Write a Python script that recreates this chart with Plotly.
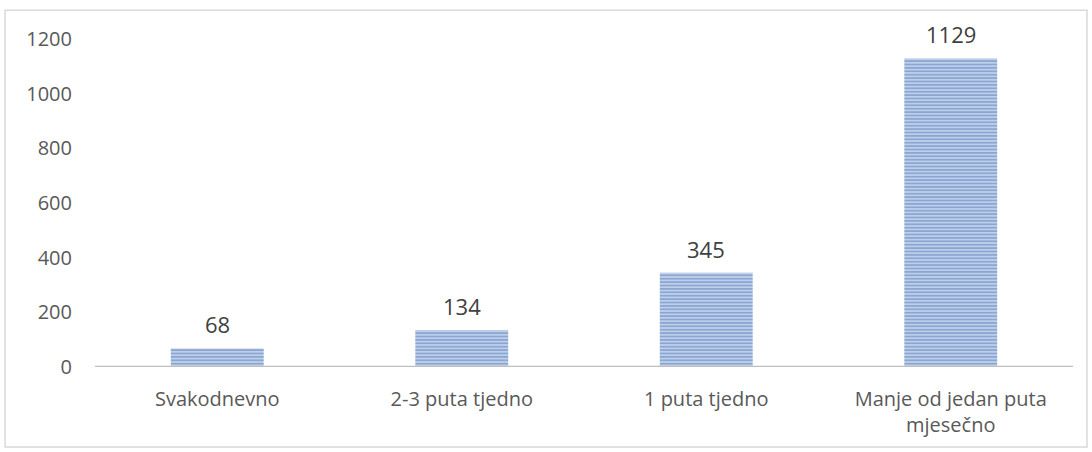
import plotly.graph_objects as go

categories = ["Svakodnevno", "2-3 puta tjedno", "1 puta tjedno", "Manje od jedan puta<br>mjesečno"]
values = [68, 134, 345, 1129]
y_ticks = [0, 200, 400, 600, 800, 1000, 1200]

FONT = "Open Sans"

fig = go.Figure()
fig.add_trace(go.Bar(
    x=categories, y=values,
    marker=dict(
        color="#cfdcef",
        line=dict(width=0),
        pattern=dict(shape="-", fgcolor="#4572b9", bgcolor="#cfdcef", size=3.4, solidity=0.62),
    ),
    hoverinfo="skip",
))

for c, v in zip(categories, values):
    fig.add_annotation(x=c, y=v, text=str(v), showarrow=False, yanchor="bottom", yshift=7,
                       font=dict(family=FONT, size=22, color="#404040"))

fig.add_shape(type="rect", xref="paper", yref="paper", x0=-0.092, x1=1.0143, y0=-0.244, y1=1.088,
              line=dict(color="#d9d9d9", width=1.5), fillcolor="rgba(0,0,0,0)", layer="below")

fig.update_layout(
    width=1092, height=452,
    margin=dict(l=95, r=19, t=39, b=85),
    paper_bgcolor="white", plot_bgcolor="white",
    bargap=0.62,
    showlegend=False,
    font=dict(family=FONT, color="#595959", size=20),
    xaxis=dict(showgrid=False, showline=False, ticks="", ticklabelstandoff=18,
               tickfont=dict(family=FONT, size=20, color="#595959"), fixedrange=True),
    yaxis=dict(range=[0, 1200], tickvals=y_ticks, showgrid=False, zeroline=False, showline=False,
               ticks="", ticklabelstandoff=22, tickfont=dict(family=FONT, size=20, color="#595959")),
)
fig.add_shape(type="line", xref="paper", yref="y", x0=0, x1=1, y0=0, y1=0,
              line=dict(color="#bfbfbf", width=2.5))

fig.write_html("out.html", config={"displayModeBar": False},
               post_script="document.body.style.margin='0';document.body.style.padding='0';")
